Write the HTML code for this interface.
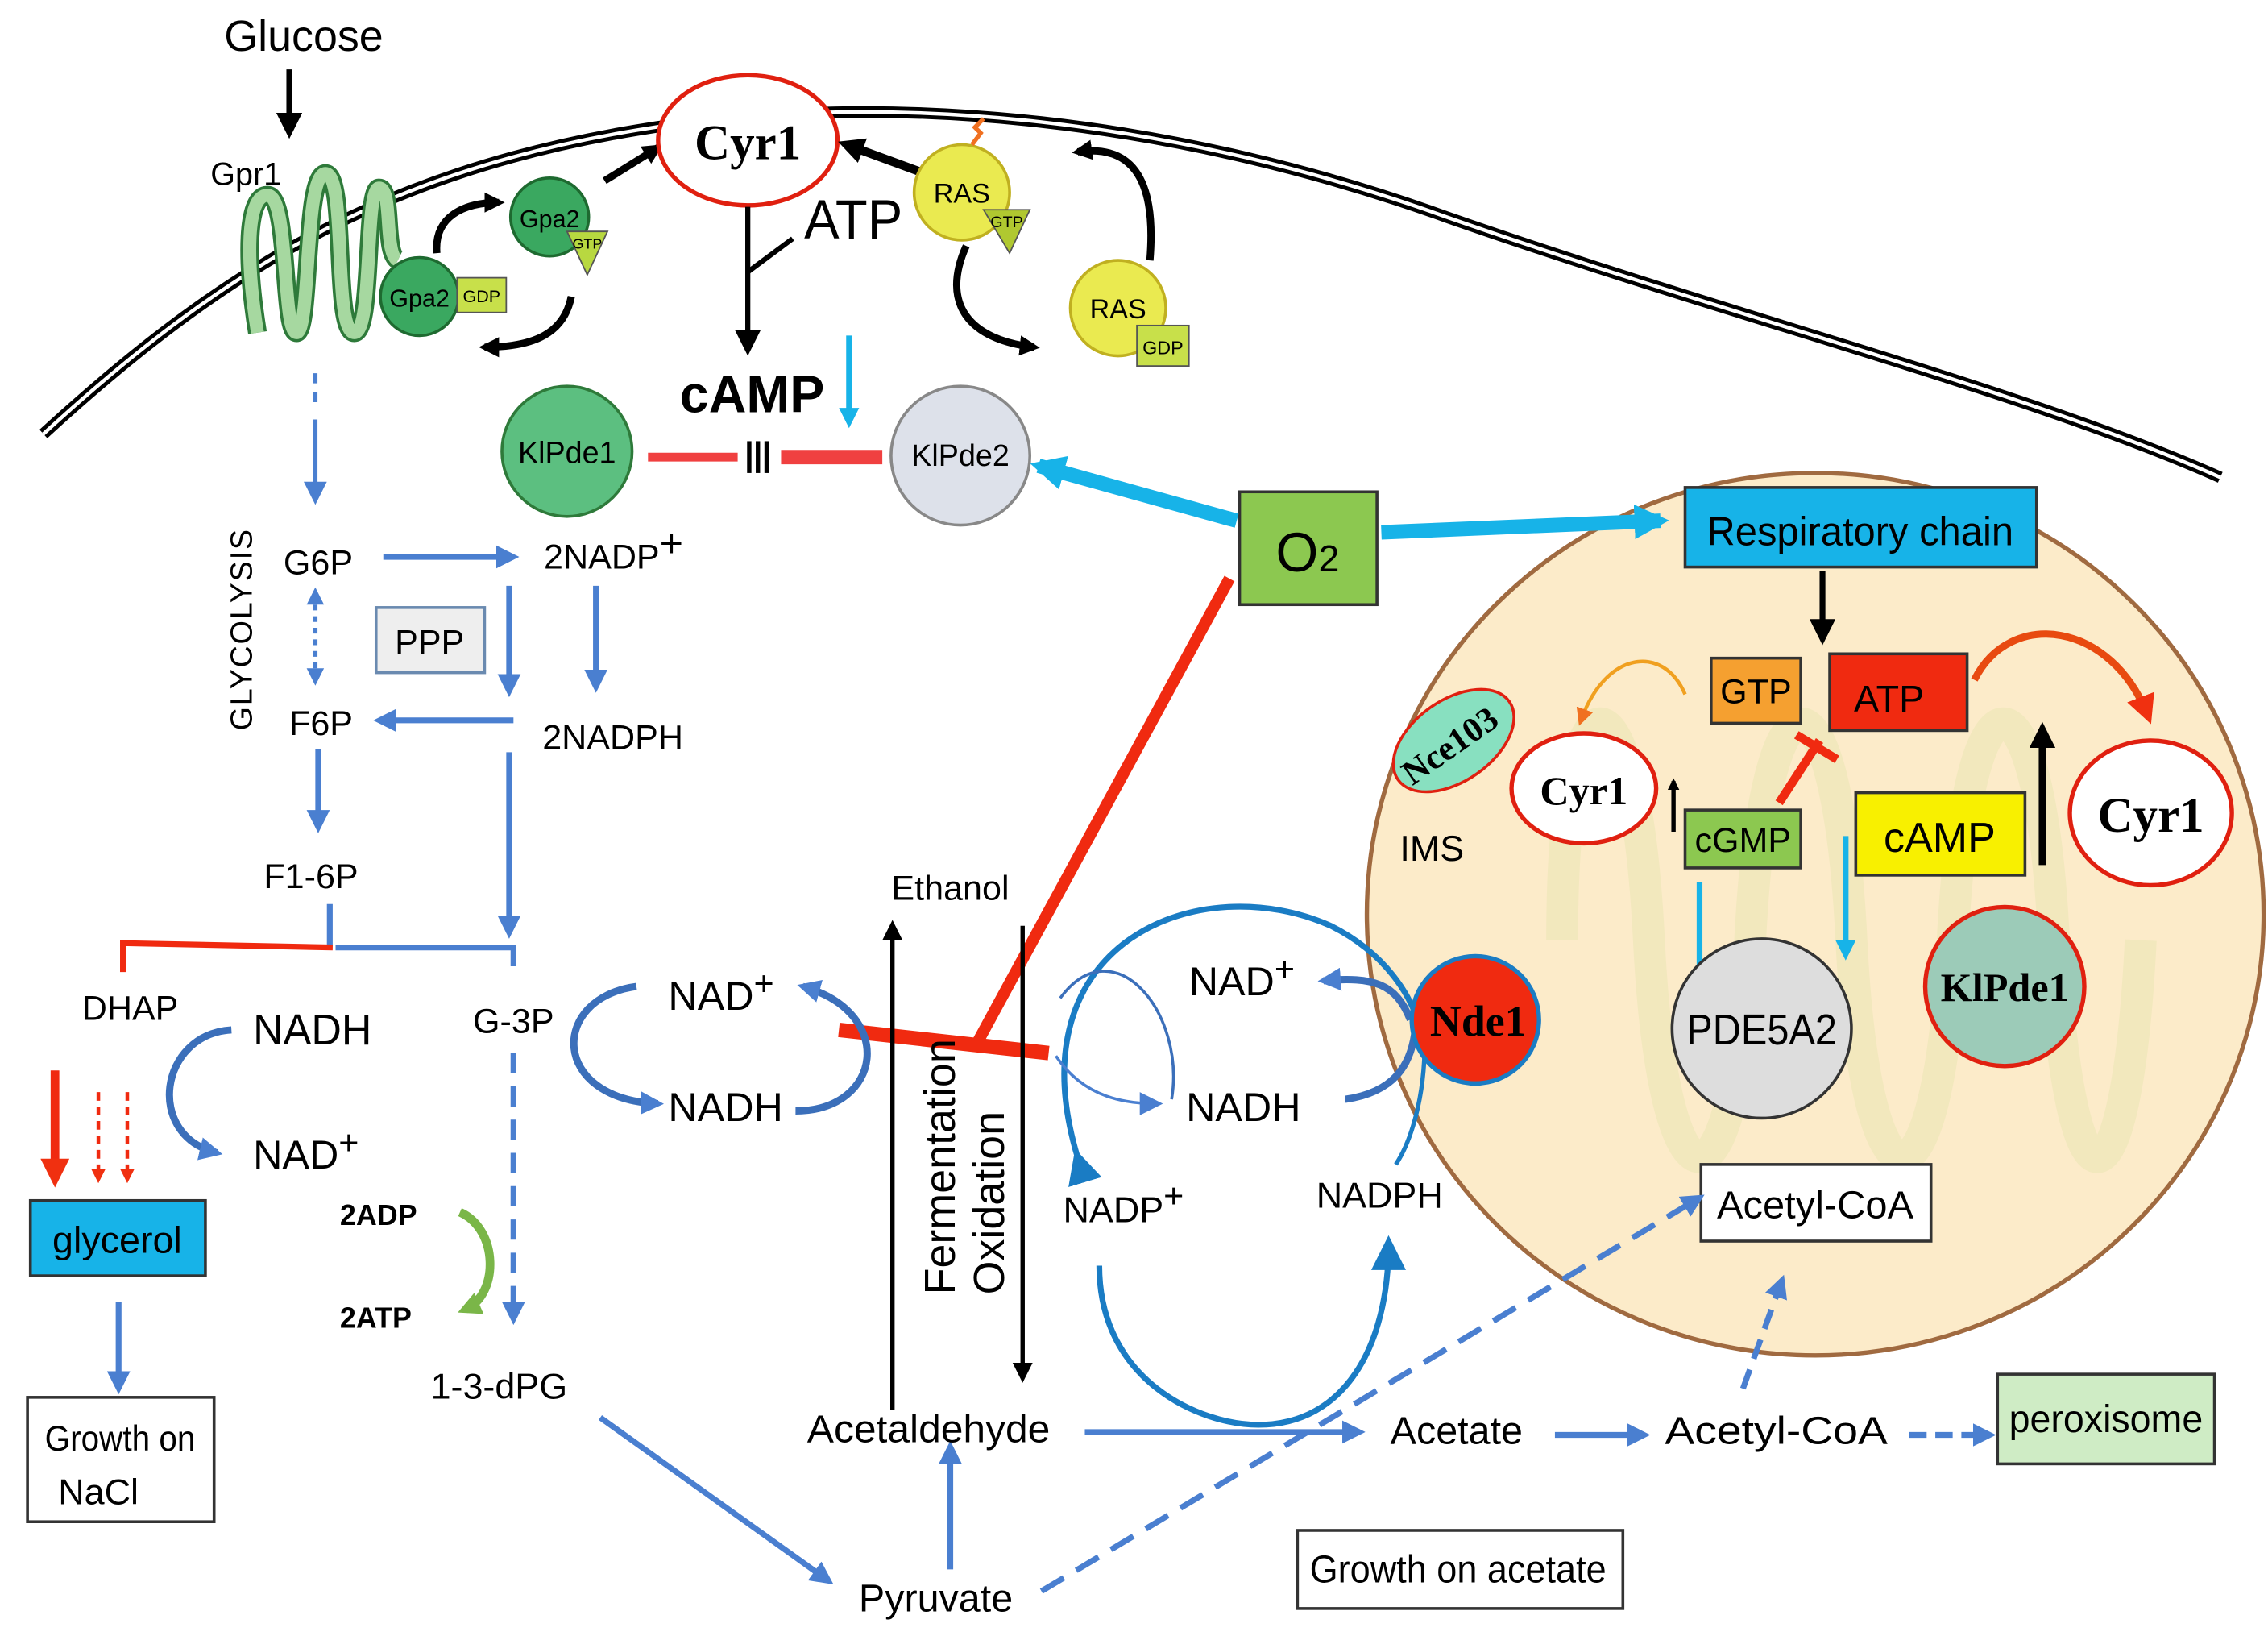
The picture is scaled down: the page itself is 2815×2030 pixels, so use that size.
<!DOCTYPE html>
<html><head><meta charset="utf-8"><style>
html,body{margin:0;padding:0;background:#fff;}
svg{display:block;}
text{font-family:"Liberation Sans",sans-serif;}
.s{font-family:"Liberation Serif",serif;font-weight:bold;}
</style></head><body>
<svg width="2815" height="2030" viewBox="0 0 1568 1131" preserveAspectRatio="none" xmlns="http://www.w3.org/2000/svg">
<defs>
<marker id="bk" markerWidth="8" markerHeight="8" refX="6" refY="4" orient="auto" markerUnits="userSpaceOnUse"><path d="M0,0 L8,4 L0,8 z" fill="#000"/></marker>
<marker id="bkM" markerWidth="14" markerHeight="14" refX="10" refY="7" orient="auto" markerUnits="userSpaceOnUse"><path d="M0,0 L14,7 L0,14 z" fill="#000"/></marker>
<marker id="bkL" markerWidth="18" markerHeight="18" refX="12" refY="9" orient="auto" markerUnits="userSpaceOnUse"><path d="M0,0 L18,9 L0,18 z" fill="#000"/></marker>
<marker id="bl" markerWidth="16" markerHeight="16" refX="12" refY="8" orient="auto" markerUnits="userSpaceOnUse"><path d="M0,0 L16,8 L0,16 z" fill="#4a7fd0"/></marker>
<marker id="bl2" markerWidth="24" markerHeight="24" refX="18" refY="12" orient="auto" markerUnits="userSpaceOnUse"><path d="M0,0 L24,12 L0,24 z" fill="#1a7cc4"/></marker>
<marker id="cy" markerWidth="24" markerHeight="24" refX="18" refY="12" orient="auto" markerUnits="userSpaceOnUse"><path d="M0,0 L24,12 L0,24 z" fill="#17b3e8"/></marker>
<marker id="cys" markerWidth="14" markerHeight="14" refX="10" refY="7" orient="auto" markerUnits="userSpaceOnUse"><path d="M0,0 L14,7 L0,14 z" fill="#17b3e8"/></marker>
<marker id="rd" markerWidth="20" markerHeight="20" refX="14" refY="10" orient="auto" markerUnits="userSpaceOnUse"><path d="M0,0 L20,10 L0,20 z" fill="#f03010"/></marker>
<marker id="rds" markerWidth="10" markerHeight="10" refX="7" refY="5" orient="auto" markerUnits="userSpaceOnUse"><path d="M0,0 L10,5 L0,10 z" fill="#f03010"/></marker>
<marker id="gr" markerWidth="16" markerHeight="16" refX="10" refY="8" orient="auto" markerUnits="userSpaceOnUse"><path d="M0,0 L16,8 L0,16 z" fill="#7ab648"/></marker>
<marker id="or" markerWidth="12" markerHeight="12" refX="8" refY="6" orient="auto" markerUnits="userSpaceOnUse"><path d="M0,0 L12,6 L0,12 z" fill="#f07020"/></marker>
</defs>

<!-- membrane -->
<path d="M30,300 C150,190 260,120 440,90 C620,60 820,85 1000,150 C1200,220 1400,270 1535,330" fill="none" stroke="#000" stroke-width="8"/>
<path d="M30,300 C150,190 260,120 440,90 C620,60 820,85 1000,150 C1200,220 1400,270 1535,330" fill="none" stroke="#fff" stroke-width="2.5"/>

<!-- mitochondrion -->
<ellipse cx="1255" cy="632" rx="310" ry="305" fill="#fcebc9" stroke="#a06a40" stroke-width="3"/>
<path d="M1080,650 C1080,450 1130,450 1140,650 C1150,850 1200,850 1210,650 C1220,450 1270,450 1280,650 C1290,850 1340,850 1350,650 C1360,450 1410,450 1420,650 C1430,850 1470,850 1480,650" fill="none" stroke="#eee7b8" stroke-width="22" opacity="0.7"/>

<!-- Glucose -->
<text x="210" y="35" font-size="30" text-anchor="middle" textLength="110" lengthAdjust="spacingAndGlyphs">Glucose</text>
<line x1="200" y1="48" x2="200" y2="90" stroke="#000" stroke-width="4" marker-end="url(#bkL)"/>
<text x="170" y="128" font-size="22" text-anchor="middle">Gpr1</text>
<path d="M178,230 C170,180 170,135 185,135 C200,135 195,230 205,230 C215,230 210,120 225,120 C240,120 230,230 245,230 C258,230 252,130 262,130 C272,130 265,175 275,180" fill="none" stroke="#2e7a3a" stroke-width="13"/>
<path d="M178,230 C170,180 170,135 185,135 C200,135 195,230 205,230 C215,230 210,120 225,120 C240,120 230,230 245,230 C258,230 252,130 262,130 C272,130 265,175 275,180" fill="none" stroke="#a6d8a0" stroke-width="9"/>
<circle cx="290" cy="205" r="27" fill="#3aa860" stroke="#1e6a30" stroke-width="2"/>
<text x="290" y="212" font-size="17" text-anchor="middle">Gpa2</text>
<rect x="316" y="192" width="34" height="24" fill="#c8e04a" stroke="#555"/>
<text x="333" y="209" font-size="12" text-anchor="middle">GDP</text>
<circle cx="380" cy="150" r="27" fill="#3aa860" stroke="#1e6a30" stroke-width="2"/>
<text x="380" y="157" font-size="17" text-anchor="middle">Gpa2</text>
<path d="M392,160 L420,160 L406,190 z" fill="#b8d840" stroke="#555"/>
<text x="406" y="172" font-size="10" text-anchor="middle">GTP</text>
<path d="M302,175 C300,150 320,140 345,140" fill="none" stroke="#000" stroke-width="5" marker-end="url(#bkM)"/>
<path d="M395,205 C390,230 370,240 335,240" fill="none" stroke="#000" stroke-width="5" marker-end="url(#bkM)"/>
<line x1="418" y1="125" x2="455" y2="102" stroke="#000" stroke-width="5" marker-end="url(#bkM)"/>

<!-- Cyr1 top -->
<ellipse cx="517" cy="97" rx="62" ry="45" fill="#fff" stroke="#e02010" stroke-width="3"/>
<text x="517" y="110" font-size="34" class="s" text-anchor="middle">Cyr1</text>
<text x="590" y="165" font-size="38" text-anchor="middle" textLength="68" lengthAdjust="spacingAndGlyphs">ATP</text>
<line x1="517" y1="143" x2="517" y2="240" stroke="#000" stroke-width="3.5" marker-end="url(#bkL)"/>
<line x1="517" y1="188" x2="548" y2="165" stroke="#000" stroke-width="3.5"/>
<text x="520" y="285" font-size="36" font-weight="bold" text-anchor="middle" textLength="100" lengthAdjust="spacingAndGlyphs">cAMP</text>
<line x1="587" y1="232" x2="587" y2="292" stroke="#17b3e8" stroke-width="4" marker-end="url(#cys)"/>

<!-- RAS -->
<line x1="645" y1="122" x2="585" y2="100" stroke="#000" stroke-width="6" marker-end="url(#bkL)"/>
<circle cx="665" cy="133" r="33" fill="#eaea50" stroke="#c0b020" stroke-width="2"/>
<text x="665" y="140" font-size="19" text-anchor="middle">RAS</text>
<path d="M680,145 L712,145 L698,175 z" fill="#b0c830" stroke="#555"/>
<text x="696" y="157" font-size="11" text-anchor="middle">GTP</text>
<path d="M672,100 l6,-8 l-4,-4 l6,-6" stroke="#f07020" stroke-width="3" fill="none"/>
<circle cx="773" cy="213" r="33" fill="#eaea50" stroke="#c0b020" stroke-width="2"/>
<text x="773" y="220" font-size="19" text-anchor="middle">RAS</text>
<rect x="786" y="225" width="36" height="28" fill="#c8e04a" stroke="#555"/>
<text x="804" y="245" font-size="13" text-anchor="middle">GDP</text>
<path d="M668,170 C650,210 670,235 715,240" fill="none" stroke="#000" stroke-width="5" marker-end="url(#bkM)"/>
<path d="M795,180 C800,120 780,100 745,105" fill="none" stroke="#000" stroke-width="5" marker-end="url(#bkM)"/>

<!-- KlPde -->
<circle cx="392" cy="312" r="45" fill="#5cbf80" stroke="#2e7a3a" stroke-width="2"/>
<text x="392" y="320" font-size="21" font-family="Liberation Serif,serif" text-anchor="middle">KlPde1</text>
<circle cx="664" cy="315" r="48" fill="#dde1ea" stroke="#888" stroke-width="2"/>
<text x="664" y="322" font-size="21" font-family="Liberation Serif,serif" text-anchor="middle">KlPde2</text>
<line x1="448" y1="316" x2="510" y2="316" stroke="#f04040" stroke-width="6"/>
<line x1="540" y1="316" x2="610" y2="316" stroke="#f04040" stroke-width="10"/>
<line x1="518" y1="305" x2="518" y2="327" stroke="#000" stroke-width="3"/>
<line x1="524" y1="305" x2="524" y2="327" stroke="#000" stroke-width="3"/>
<line x1="530" y1="305" x2="530" y2="327" stroke="#000" stroke-width="3"/>

<!-- O2 -->
<rect x="857" y="340" width="95" height="78" fill="#8cc850" stroke="#333" stroke-width="2"/>
<text x="904" y="395" font-size="38" text-anchor="middle">O<tspan font-size="26">2</tspan></text>
<line x1="855" y1="360" x2="718" y2="322" stroke="#17b3e8" stroke-width="10" marker-end="url(#cy)"/>
<line x1="955" y1="368" x2="1148" y2="360" stroke="#17b3e8" stroke-width="10" marker-end="url(#cy)"/>
<line x1="850" y1="400" x2="675" y2="722" stroke="#f02a10" stroke-width="8"/>
<line x1="580" y1="712" x2="725" y2="728" stroke="#f02a10" stroke-width="10"/>

<!-- glycolysis -->
<line x1="218" y1="258" x2="218" y2="282" stroke="#4a7fd0" stroke-width="3" stroke-dasharray="7,6"/>
<line x1="218" y1="290" x2="218" y2="345" stroke="#4a7fd0" stroke-width="3" marker-end="url(#bl)"/>
<text x="174" y="435" font-size="21" text-anchor="middle" transform="rotate(-90 174 435)" letter-spacing="1">GLYCOLYSIS</text>
<text x="220" y="397" font-size="24" text-anchor="middle">G6P</text>
<line x1="265" y1="385" x2="355" y2="385" stroke="#4a7fd0" stroke-width="4" marker-end="url(#bl)"/>
<text x="376" y="393" font-size="24">2NADP<tspan font-size="28" dy="-8">+</tspan></text>
<rect x="260" y="420" width="75" height="45" fill="#eee" stroke="#6a8ab0" stroke-width="2"/>
<text x="297" y="452" font-size="24" text-anchor="middle">PPP</text>
<line x1="352" y1="405" x2="352" y2="478" stroke="#4a7fd0" stroke-width="4" marker-end="url(#bl)"/>
<line x1="412" y1="405" x2="412" y2="475" stroke="#4a7fd0" stroke-width="4" marker-end="url(#bl)"/>
<line x1="218" y1="410" x2="218" y2="470" stroke="#4a7fd0" stroke-width="3" stroke-dasharray="4,4"/>
<path d="M212,418 L218,406 L224,418 z M212,462 L218,474 L224,462 z" fill="#4a7fd0"/>
<text x="222" y="508" font-size="24" text-anchor="middle">F6P</text>
<line x1="355" y1="498" x2="262" y2="498" stroke="#4a7fd0" stroke-width="4" marker-end="url(#bl)"/>
<text x="375" y="518" font-size="24">2NADPH</text>
<line x1="220" y1="518" x2="220" y2="572" stroke="#4a7fd0" stroke-width="4" marker-end="url(#bl)"/>
<line x1="352" y1="520" x2="352" y2="645" stroke="#4a7fd0" stroke-width="4" marker-end="url(#bl)"/>
<text x="215" y="614" font-size="24" text-anchor="middle">F1-6P</text>
<line x1="228" y1="625" x2="228" y2="654" stroke="#4a7fd0" stroke-width="4"/>
<polyline points="85,672 85,652 230,655" fill="none" stroke="#f02a10" stroke-width="4"/>
<polyline points="232,655 355,655 355,668" fill="none" stroke="#4a7fd0" stroke-width="4"/>
<text x="90" y="705" font-size="24" text-anchor="middle">DHAP</text>
<text x="175" y="722" font-size="30" textLength="82" lengthAdjust="spacingAndGlyphs">NADH</text>
<path d="M160,712 C110,715 100,785 150,797" fill="none" stroke="#3b6fba" stroke-width="5" marker-end="url(#bl)"/>
<text x="175" y="808" font-size="28">NAD<tspan font-size="24" dy="-10">+</tspan></text>
<text x="355" y="714" font-size="24" text-anchor="middle">G-3P</text>
<line x1="38" y1="740" x2="38" y2="815" stroke="#f02a10" stroke-width="6" marker-end="url(#rd)"/>
<line x1="68" y1="755" x2="68" y2="815" stroke="#f02a10" stroke-width="2.5" stroke-dasharray="6,4" marker-end="url(#rds)"/>
<line x1="88" y1="755" x2="88" y2="815" stroke="#f02a10" stroke-width="2.5" stroke-dasharray="6,4" marker-end="url(#rds)"/>
<rect x="21" y="830" width="121" height="52" fill="#17b3e8" stroke="#333" stroke-width="2"/>
<text x="81" y="866" font-size="26" text-anchor="middle">glycerol</text>
<line x1="82" y1="900" x2="82" y2="960" stroke="#4a7fd0" stroke-width="4" marker-end="url(#bl)"/>
<rect x="19" y="966" width="129" height="86" fill="#fff" stroke="#333" stroke-width="2"/>
<text x="83" y="1003" font-size="25" text-anchor="middle" textLength="104" lengthAdjust="spacingAndGlyphs">Growth on</text>
<text x="68" y="1040" font-size="25" text-anchor="middle">NaCl</text>
<line x1="355" y1="728" x2="355" y2="912" stroke="#4a7fd0" stroke-width="4" stroke-dasharray="14,9" marker-end="url(#bl)"/>
<text x="235" y="847" font-size="20" font-weight="bold">2ADP</text>
<text x="235" y="918" font-size="20" font-weight="bold">2ATP</text>
<path d="M318,838 C345,850 345,895 322,905" fill="none" stroke="#7ab648" stroke-width="6" marker-end="url(#gr)"/>
<text x="345" y="967" font-size="25" text-anchor="middle">1-3-dPG</text>
<line x1="415" y1="980" x2="573" y2="1093" stroke="#4a7fd0" stroke-width="4" marker-end="url(#bl)"/>
<text x="647" y="1114" font-size="27" text-anchor="middle">Pyruvate</text>
<line x1="657" y1="1085" x2="657" y2="1000" stroke="#4a7fd0" stroke-width="4" marker-end="url(#bl)"/>
<text x="642" y="997" font-size="27" text-anchor="middle" textLength="168" lengthAdjust="spacingAndGlyphs">Acetaldehyde</text>

<!-- ferment -->
<text x="657" y="622" font-size="24" text-anchor="middle">Ethanol</text>
<line x1="617" y1="975" x2="617" y2="640" stroke="#000" stroke-width="3" marker-end="url(#bkM)"/>
<line x1="707" y1="640" x2="707" y2="952" stroke="#000" stroke-width="3" marker-end="url(#bkM)"/>
<text x="0" y="0" font-size="30" transform="translate(660,895) rotate(-90)">Fermentation</text>
<text x="0" y="0" font-size="30" transform="translate(694,895) rotate(-90)">Oxidation</text>
<text x="462" y="698" font-size="28">NAD<tspan font-size="24" dy="-10">+</tspan></text>
<text x="462" y="775" font-size="28">NADH</text>
<path d="M440,682 C380,690 380,760 455,763" fill="none" stroke="#3b6fba" stroke-width="5" marker-end="url(#bl)"/>
<path d="M550,768 C610,768 620,700 555,682" fill="none" stroke="#3b6fba" stroke-width="5" marker-end="url(#bl)"/>

<!-- Nde1 region -->
<path d="M745,800 C700,650 830,600 920,640 C960,660 975,690 980,705" fill="none" stroke="#1a7cc4" stroke-width="4" marker-start="url(#bl2)"/>
<path d="M733,690 C770,640 820,700 810,760" fill="none" stroke="#3b6fba" stroke-width="2"/>
<path d="M730,730 C750,760 780,763 800,763" fill="none" stroke="#4a7fd0" stroke-width="2" marker-end="url(#bl)"/>
<text x="822" y="688" font-size="28">NAD<tspan font-size="24" dy="-10">+</tspan></text>
<text x="820" y="775" font-size="28">NADH</text>
<path d="M975,705 C965,680 950,675 915,678" fill="none" stroke="#3b6fba" stroke-width="5" marker-end="url(#bl)"/>
<path d="M930,760 C965,755 975,735 978,715" fill="none" stroke="#3b6fba" stroke-width="5"/>
<path d="M985,720 C985,760 975,790 965,805" fill="none" stroke="#1a7cc4" stroke-width="3"/>
<text x="735" y="845" font-size="25">NADP<tspan font-size="24" dy="-10">+</tspan></text>
<text x="910" y="835" font-size="25">NADPH</text>
<path d="M760,875 C760,955 830,985 870,985 C930,985 960,930 960,860" fill="none" stroke="#1a7cc4" stroke-width="4" marker-end="url(#bl2)"/>
<circle cx="1020" cy="705" r="44" fill="#f02a10" stroke="#1a7cc4" stroke-width="3"/>
<text x="1022" y="716" font-size="30" class="s" text-anchor="middle">Nde1</text>

<!-- mito content -->
<rect x="1165" y="337" width="243" height="55" fill="#17b3e8" stroke="#333" stroke-width="2"/>
<text x="1286" y="377" font-size="28" text-anchor="middle" textLength="212" lengthAdjust="spacingAndGlyphs">Respiratory chain</text>
<line x1="1260" y1="395" x2="1260" y2="440" stroke="#000" stroke-width="4" marker-end="url(#bkL)"/>
<rect x="1183" y="455" width="62" height="45" fill="#f5a030" stroke="#333" stroke-width="2"/>
<text x="1214" y="486" font-size="24" text-anchor="middle">GTP</text>
<rect x="1265" y="452" width="95" height="53" fill="#f02a10" stroke="#333" stroke-width="2"/>
<text x="1306" y="492" font-size="26" text-anchor="middle">ATP</text>
<path d="M1165,480 C1150,445 1110,450 1093,498" fill="none" stroke="#f0a020" stroke-width="2.5" marker-end="url(#or)"/>
<path d="M1365,470 C1390,420 1460,430 1485,495" fill="none" stroke="#e84a10" stroke-width="5" marker-end="url(#rd)"/>
<ellipse cx="1005" cy="512" rx="47" ry="28" transform="rotate(-35 1005 512)" fill="#88e0c0" stroke="#e02010" stroke-width="2"/>
<text x="0" y="0" font-size="24" class="s" text-anchor="middle" transform="translate(1007,522) rotate(-35)">Nce103</text>
<text x="990" y="595" font-size="25" text-anchor="middle">IMS</text>
<ellipse cx="1095" cy="545" rx="50" ry="38" fill="#fff" stroke="#e02010" stroke-width="3"/>
<text x="1095" y="556" font-size="28" class="s" text-anchor="middle">Cyr1</text>
<line x1="1157" y1="575" x2="1157" y2="540" stroke="#000" stroke-width="3" marker-end="url(#bk)"/>
<rect x="1165" y="560" width="80" height="40" fill="#8cc850" stroke="#333" stroke-width="2"/>
<text x="1205" y="589" font-size="24" text-anchor="middle">cGMP</text>
<line x1="1230" y1="555" x2="1258" y2="512" stroke="#f02a10" stroke-width="6"/>
<line x1="1242" y1="508" x2="1270" y2="525" stroke="#f02a10" stroke-width="6"/>
<rect x="1283" y="548" width="117" height="57" fill="#f8f000" stroke="#333" stroke-width="2"/>
<text x="1341" y="589" font-size="29" text-anchor="middle">cAMP</text>
<line x1="1412" y1="598" x2="1412" y2="505" stroke="#000" stroke-width="5" marker-end="url(#bkL)"/>
<ellipse cx="1487" cy="562" rx="56" ry="50" fill="#fff" stroke="#e02010" stroke-width="3"/>
<text x="1487" y="575" font-size="34" class="s" text-anchor="middle">Cyr1</text>
<line x1="1175" y1="610" x2="1175" y2="690" stroke="#17b3e8" stroke-width="4" marker-end="url(#cys)"/>
<line x1="1276" y1="578" x2="1276" y2="660" stroke="#17b3e8" stroke-width="4" marker-end="url(#cys)"/>
<circle cx="1218" cy="711" r="62" fill="#ddd" stroke="#333" stroke-width="2"/>
<text x="1218" y="722" font-size="30" text-anchor="middle" textLength="104" lengthAdjust="spacingAndGlyphs">PDE5A2</text>
<circle cx="1386" cy="682" r="55" fill="#9ccbb8" stroke="#e02010" stroke-width="3"/>
<text x="1386" y="692" font-size="28" class="s" text-anchor="middle">KlPde1</text>
<rect x="1176" y="805" width="159" height="53" fill="#fff" stroke="#333" stroke-width="2"/>
<text x="1255" y="842" font-size="27" text-anchor="middle" textLength="136" lengthAdjust="spacingAndGlyphs">Acetyl-CoA</text>

<!-- bottom row -->
<line x1="750" y1="990" x2="940" y2="990" stroke="#4a7fd0" stroke-width="4" marker-end="url(#bl)"/>
<text x="1007" y="998" font-size="27" text-anchor="middle">Acetate</text>
<line x1="1075" y1="992" x2="1137" y2="992" stroke="#4a7fd0" stroke-width="4" marker-end="url(#bl)"/>
<text x="1228" y="998" font-size="27" text-anchor="middle" textLength="154" lengthAdjust="spacingAndGlyphs">Acetyl-CoA</text>
<line x1="1320" y1="992" x2="1376" y2="992" stroke="#4a7fd0" stroke-width="4" stroke-dasharray="12,6" marker-end="url(#bl)"/>
<rect x="1381" y="950" width="150" height="62" fill="#cfecc5" stroke="#333" stroke-width="2"/>
<text x="1456" y="990" font-size="27" text-anchor="middle" textLength="134" lengthAdjust="spacingAndGlyphs">peroxisome</text>
<line x1="720" y1="1100" x2="1175" y2="828" stroke="#4a7fd0" stroke-width="4" stroke-dasharray="18,10" marker-end="url(#bl)"/>
<line x1="1205" y1="960" x2="1232" y2="885" stroke="#4a7fd0" stroke-width="4" stroke-dasharray="14,8" marker-end="url(#bl)"/>
<rect x="897" y="1058" width="225" height="54" fill="#fff" stroke="#333" stroke-width="2"/>
<text x="1008" y="1094" font-size="27" text-anchor="middle" textLength="205" lengthAdjust="spacingAndGlyphs">Growth on acetate</text>
</svg>
</body></html>
